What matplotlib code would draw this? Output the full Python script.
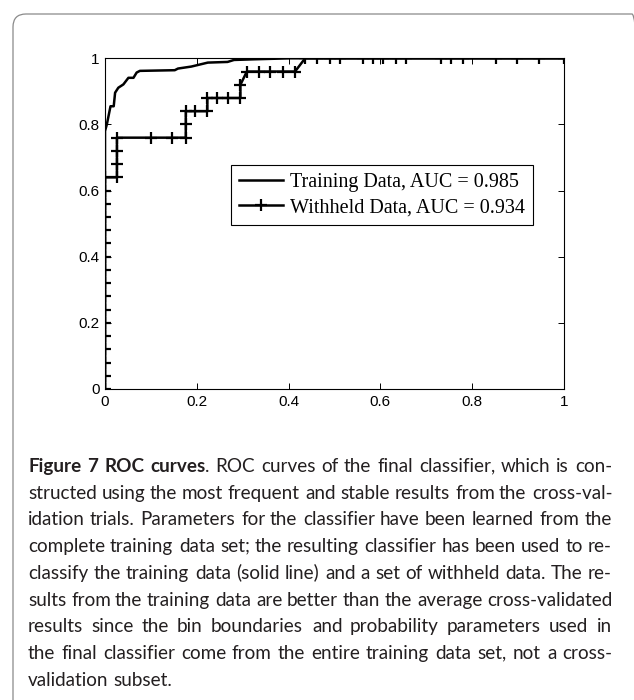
import math
import matplotlib
matplotlib.use('Agg')
import matplotlib.pyplot as plt
from matplotlib.patches import FancyBboxPatch
from matplotlib.font_manager import FontProperties
from matplotlib.backends.backend_agg import get_hinting_flag

# training data ROC
train_fpr = [0, 0, 0.004, 0.012, 0.019, 0.022, 0.029, 0.040, 0.051, 0.062, 0.069, 0.076,
             0.152, 0.159, 0.188, 0.224, 0.267, 0.281, 0.325, 0.404, 0.43, 1.0]
train_tpr = [0, 0.78, 0.80, 0.855, 0.855, 0.896, 0.911, 0.921, 0.941, 0.941, 0.957, 0.962,
             0.964, 0.969, 0.975, 0.987, 0.989, 0.995, 0.997, 1.0, 1.0, 1.0]

# withheld data ROC, one point per marker
held_fpr = [0] * 17 + [0.026, 0.026, 0.026, 0.026,
            0.10, 0.147, 0.176, 0.176, 0.176, 0.197, 0.223, 0.223, 0.244, 0.268, 0.295, 0.295,
            0.309, 0.335, 0.360, 0.388, 0.414,
            0.436, 0.461, 0.490, 0.512, 0.562, 0.584, 0.605, 0.634, 0.656, 0.732, 0.754,
            0.779, 0.852, 0.898, 0.946, 1.0]
held_tpr = [k * 0.04 for k in range(17)] + [0.64, 0.68, 0.72, 0.76,
            0.76, 0.76, 0.76, 0.80, 0.84, 0.84, 0.84, 0.88, 0.88, 0.88, 0.88, 0.92,
            0.96, 0.96, 0.96, 0.96, 0.96,
            1, 1, 1, 1, 1, 1, 1, 1, 1, 1, 1,
            1, 1, 1, 1, 1]

labels = ['Training Data, AUC = 0.985', 'Withheld Data, AUC = 0.934']
ticks = [0, 0.2, 0.4, 0.6, 0.8, 1]
tick_labels = ['0', '0.2', '0.4', '0.6', '0.8', '1']

caption = [
    'Figure 7 ROC curves. ROC curves of the final classifier, which is con-',
    'structed using the most frequent and stable results from the cross-val-',
    'idation trials. Parameters for the classifier have been learned from the',
    'complete training data set; the resulting classifier has been used to re-',
    'classify the training data (solid line) and a set of withheld data. The re-',
    'sults from the training data are better than the average cross-validated',
    'results since the bin boundaries and probability parameters used in',
    'the final classifier come from the entire training data set, not a cross-',
    'validation subset.',
]
n_bold = 4  # "Figure 7 ROC curves" is bold

W, H = 634, 700
fig = plt.figure(figsize=(W / 100, H / 100), dpi=100)

# outer rounded frame
frame = FancyBboxPatch((13, -30), 632, H - 14 + 30, boxstyle='round,pad=0,rounding_size=13',
                       transform=None, facecolor='none', edgecolor='#8a8a8a', lw=0.9)
fig.patches.append(frame)

x0, x1, yb, yt = 105, 564, 389, 58.3
ax = fig.add_axes([x0 / W, 1 - yb / H, (x1 - x0) / W, (yb - yt) / H])
ax.plot(train_fpr, train_tpr, color='black', lw=1.8, label=labels[0])
ax.plot(held_fpr, held_tpr, color='black', lw=1.8, marker='+', ms=8, mew=1.6, label=labels[1])
ax.set_xlim(0, 1)
ax.set_ylim(0, 1)
ax.set_xticks(ticks)
ax.set_xticklabels(tick_labels)
ax.set_yticks(ticks)
ax.set_yticklabels(tick_labels)
ax.tick_params(direction='in', length=4, width=0.7, top=True, right=True, pad=4,
               labelsize=11)
for lab in ax.get_xticklabels() + ax.get_yticklabels():
    lab.set_family('Liberation Sans')
for s in ax.spines.values():
    s.set_linewidth(0.8)

leg = ax.legend(loc='upper right', bbox_to_anchor=((533 - x0) / (x1 - x0), (yb - 165) / (yb - yt)),
                prop={'family': 'Liberation Serif', 'size': 14.5}, fancybox=False, framealpha=1,
                edgecolor='black', borderaxespad=0, handlelength=2.2, handletextpad=0.35,
                borderpad=0.4, labelspacing=0.3)
leg.get_frame().set_linewidth(0.8)

# caption, justified line by line
fig.canvas.draw()
r = fig.canvas.get_renderer()
left, right = 28, 612
base0, step = 472, 26.7
cap_font = 'Lato'
cap_size = 13.6


def base_shift(txt, fp):
    # agg rounds the glyph bitmap position, which moves some words by a pixel
    try:
        font = r._prepare_font(fp)
        font.set_text(txt, 0, flags=get_hinting_flag())
        w, h = font.get_width_height()
        d = font.get_descent() / 64
        ymax = h / 64 - d
        return round(d) + math.floor(ymax) - math.floor(ymax + d)
    except Exception:
        return 0


for i, line in enumerate(caption):
    words = line.split(' ')
    items = []
    for j, w in enumerate(words):
        if i == 0 and j < n_bold:
            if w.endswith('.'):
                parts = [(w[:-1], 'bold'), ('.', 'normal')]
            else:
                parts = [(w, 'bold')]
        else:
            parts = [(w, 'normal')]
        objs = []
        for txt, wt in parts:
            fp = FontProperties(family=cap_font, size=cap_size, weight=wt)
            t = fig.text(0, 0, txt, fontproperties=fp,
                         color='#231f20', va='baseline', ha='left', transform=None)
            objs.append((t, t.get_window_extent(r).width, base_shift(txt, fp)))
        items.append(objs)
    widths = [sum(o[1] for o in objs) for objs in items]
    if i < len(caption) - 1:
        gap = (right - left - sum(widths)) / (len(items) - 1)
    else:
        tmp = fig.text(0, 0, 'a a', family=cap_font, size=cap_size)
        tmp2 = fig.text(0, 0, 'aa', family=cap_font, size=cap_size)
        gap = tmp.get_window_extent(r).width - tmp2.get_window_extent(r).width
        tmp.remove()
        tmp2.remove()
    x = left
    y = round(H - (base0 + step * i))
    for objs, wd in zip(items, widths):
        xx = x
        for t, tw, sh in objs:
            t.set_position((round(xx), y + sh))
            xx += tw
        x += wd + gap

fig.savefig('out.png', dpi=100)
